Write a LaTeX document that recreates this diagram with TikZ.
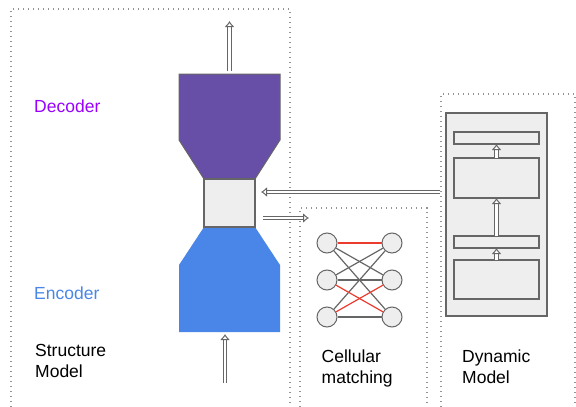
\documentclass[tikz,border=0pt]{standalone}
\usepackage{fontspec}
\setmainfont{Liberation Sans}
\usetikzlibrary{arrows.meta}

\definecolor{decfill}{HTML}{674EA7}
\definecolor{dectext}{HTML}{9900FF}
\definecolor{encfill}{HTML}{4A86E8}
\definecolor{lightfill}{HTML}{EEEEEE}
\definecolor{edgegray}{HTML}{666666}
\definecolor{matchred}{HTML}{EA3B2E}

\begin{document}
\begin{tikzpicture}[x=1pt,y=-1pt,
  frame/.style={draw=gray!85,line width=1.2pt,dash pattern=on 1.2pt off 3.8pt},
  dblarrow/.style={draw=edgegray,line width=1pt,double distance=2.8pt,arrows={-Latex[length=6pt,width=10pt,fill=white]}},
  label/.style={anchor=base west,align=left,inner xsep=0pt,font=\fontsize{17.5}{21}\selectfont},
  unit/.style={circle,draw=edgegray,fill=lightfill,line width=1pt,minimum size=20pt,inner sep=0pt},
  layer/.style={draw=edgegray,line width=1.1pt,fill=lightfill,inner sep=0pt,outer sep=0pt},
  link/.style={draw=edgegray,line width=1.2pt}]
\useasboundingbox (0,0) rectangle (576,407);

% dotted frames, open at the bottom
\draw[frame] (11,407) -- (11,9) -- (290,9) -- (290,407);
\draw[frame] (300,407) -- (300,208) -- (427,208) -- (427,407);
\draw[frame] (441,407) -- (441,94) -- (575,94) -- (575,407);

% structure model
\draw[draw=edgegray,line width=1pt,fill=decfill] (179,74) -- (280,74) -- (280,140) -- (255,179) -- (204,179) -- (179,140) -- cycle;
\fill[encfill] (204,227) -- (255,227) -- (280,265) -- (280,332) -- (179,332) -- (179,265) -- cycle;
\node[layer,line width=1.3pt,minimum width=51pt,minimum height=48pt] (lat) at (229.5,203) {};
\coordinate (dectop) at (229.5,71);
\coordinate (out) at (229.5,21);
\coordinate (inp) at (225,383);
\coordinate (enctop) at (225,334);
\draw[dblarrow] (dectop) -- (out);
\draw[dblarrow] (inp) -- (enctop);

% the two-line labels sit on the baseline of their last line
\node[label,text=dectext] (dec) at (34,112) {Decoder};
\node[label,text=encfill] (enc) at (34,299) {Encoder};
\node[label] (sm) at (35,377) {Structure\\Model};

% cellular matching
\node[unit] (l1) at (327,243) {};
\node[unit] (l2) at (327,280) {};
\node[unit] (l3) at (327,317) {};
\node[unit] (r1) at (392,243) {};
\node[unit] (r2) at (392,280) {};
\node[unit] (r3) at (392,317) {};
\foreach \a/\b in {l1/r2,l1/r3,l2/r1,l2/r2,l3/r1,l3/r3}
  \draw[link] (\a) -- (\b);
\foreach \a/\b in {l1/r1,l2/r3,l3/r2}
  \draw[link,draw=matchred] (\a) -- (\b);
\node[label] (cm) at (321.5,383) {Cellular\\matching};

% dynamic model
\node[layer,minimum width=101pt,minimum height=203pt] (dyn) at (496.5,214.5) {};
\node[layer,minimum width=85pt,minimum height=12pt] (d1) at (496.5,138) {};
\node[layer,minimum width=85pt,minimum height=40pt] (d2) at (496.5,178) {};
\node[layer,minimum width=85pt,minimum height=12pt] (d3) at (496.5,242) {};
\node[layer,minimum width=85pt,minimum height=39pt] (d4) at (496.5,279.5) {};
\draw[dblarrow] (d2) -- (d1);
\draw[dblarrow] (d3) -- (d2);
\draw[dblarrow] (d4) -- (d3);
\node[label] (dm) at (462,383.5) {Dynamic\\Model};

% links between the models
\coordinate (dynout) at (440,192);
\coordinate (cmin) at (309,218);
\draw[dblarrow,shorten >=6pt] (dynout) -- (lat.east |- dynout);
\draw[dblarrow,shorten <=8pt] (lat.east |- cmin) -- (cmin);
\end{tikzpicture}
\end{document}
